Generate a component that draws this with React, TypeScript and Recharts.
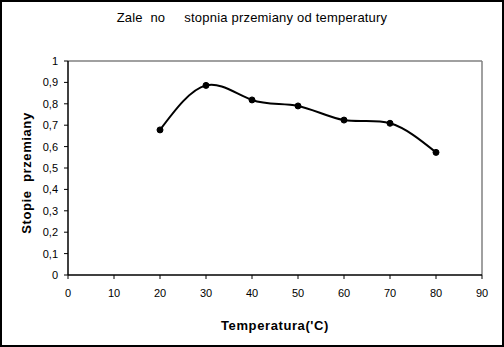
import {
  LineChart,
  Line,
  XAxis,
  YAxis,
  ReferenceLine,
  Label,
} from 'recharts';

const temperatures = [20, 30, 40, 50, 60, 70, 80];
const conversion = [0.678, 0.886, 0.818, 0.79, 0.724, 0.709, 0.573];
const xTicks = [0, 10, 20, 30, 40, 50, 60, 70, 80, 90];
const yTicks = [0, 0.1, 0.2, 0.3, 0.4, 0.5, 0.6, 0.7, 0.8, 0.9, 1];

const title = 'Zale\u00a0 no\u00a0\u00a0\u00a0\u00a0 stopnia przemiany od temperatury';
const yLabel = 'Stopie\u00a0 przemiany';
const xLabel = "Temperatura('C)";

const data = temperatures.map((t, i) => ({ t, value: conversion[i] }));

const font = '"Liberation Sans", Arial, sans-serif';

export default function App() {
  return (
    <div
      style={{
        position: 'fixed',
        left: 0,
        top: 0,
        width: 504,
        height: 347,
        background: '#fff',
        fontFamily: font,
      }}
    >
      <LineChart
        width={504}
        height={347}
        data={data}
        margin={{ top: 61, right: 22, bottom: 17, left: 0 }}
      >
        <text
          x={252}
          y={22}
          textAnchor="middle"
          fontSize={13}
          letterSpacing={0.2}
          fill="#000"
          style={{ whiteSpace: 'pre' }}
        >
          {title}
        </text>
        <XAxis
          dataKey="t"
          type="number"
          domain={[0, 90]}
          ticks={xTicks}
          height={55}
          axisLine={{ stroke: '#000', strokeWidth: 1.5 }}
          tickLine={{ stroke: '#000' }}
          tickSize={4}
          tickMargin={10}
          tick={{ fill: '#000', fontSize: 11, fontFamily: font }}
        >
          <Label
            value={xLabel}
            position="insideBottom"
            offset={0}
            style={{
              fontSize: 13,
              fontWeight: 'bold',
              letterSpacing: 0.6,
              fill: '#000',
              fontFamily: font,
            }}
          />
        </XAxis>
        <YAxis
          type="number"
          domain={[0, 1]}
          ticks={yTicks}
          width={68}
          axisLine={{ stroke: '#000', strokeWidth: 1.5 }}
          tickLine={{ stroke: '#000' }}
          tickSize={4}
          tickMargin={6}
          tick={{ fill: '#000', fontSize: 11, fontFamily: font }}
          tickFormatter={(v: number) => String(Math.round(v * 10) / 10).replace('.', ',')}
        >
          <Label
            value={yLabel}
            angle={-90}
            position="insideLeft"
            offset={26}
            dy={5}
            style={{
              fontSize: 13,
              fontWeight: 'bold',
              letterSpacing: 0.6,
              fill: '#000',
              fontFamily: font,
              textAnchor: 'middle',
              whiteSpace: 'pre',
            }}
          />
        </YAxis>
        <ReferenceLine y={1} stroke="#808080" strokeWidth={1.5} />
        <ReferenceLine x={90} stroke="#808080" strokeWidth={1.5} />
        <Line
          dataKey="value"
          type="natural"
          stroke="#000"
          strokeWidth={2}
          dot={{ r: 3, fill: '#000', stroke: '#000', strokeWidth: 1 }}
          isAnimationActive={false}
        />
      </LineChart>
      <div
        style={{
          position: 'absolute',
          left: 0,
          top: 0,
          width: 504,
          height: 347,
          boxSizing: 'border-box',
          border: '2px solid #000',
          pointerEvents: 'none',
        }}
      />
    </div>
  );
}
